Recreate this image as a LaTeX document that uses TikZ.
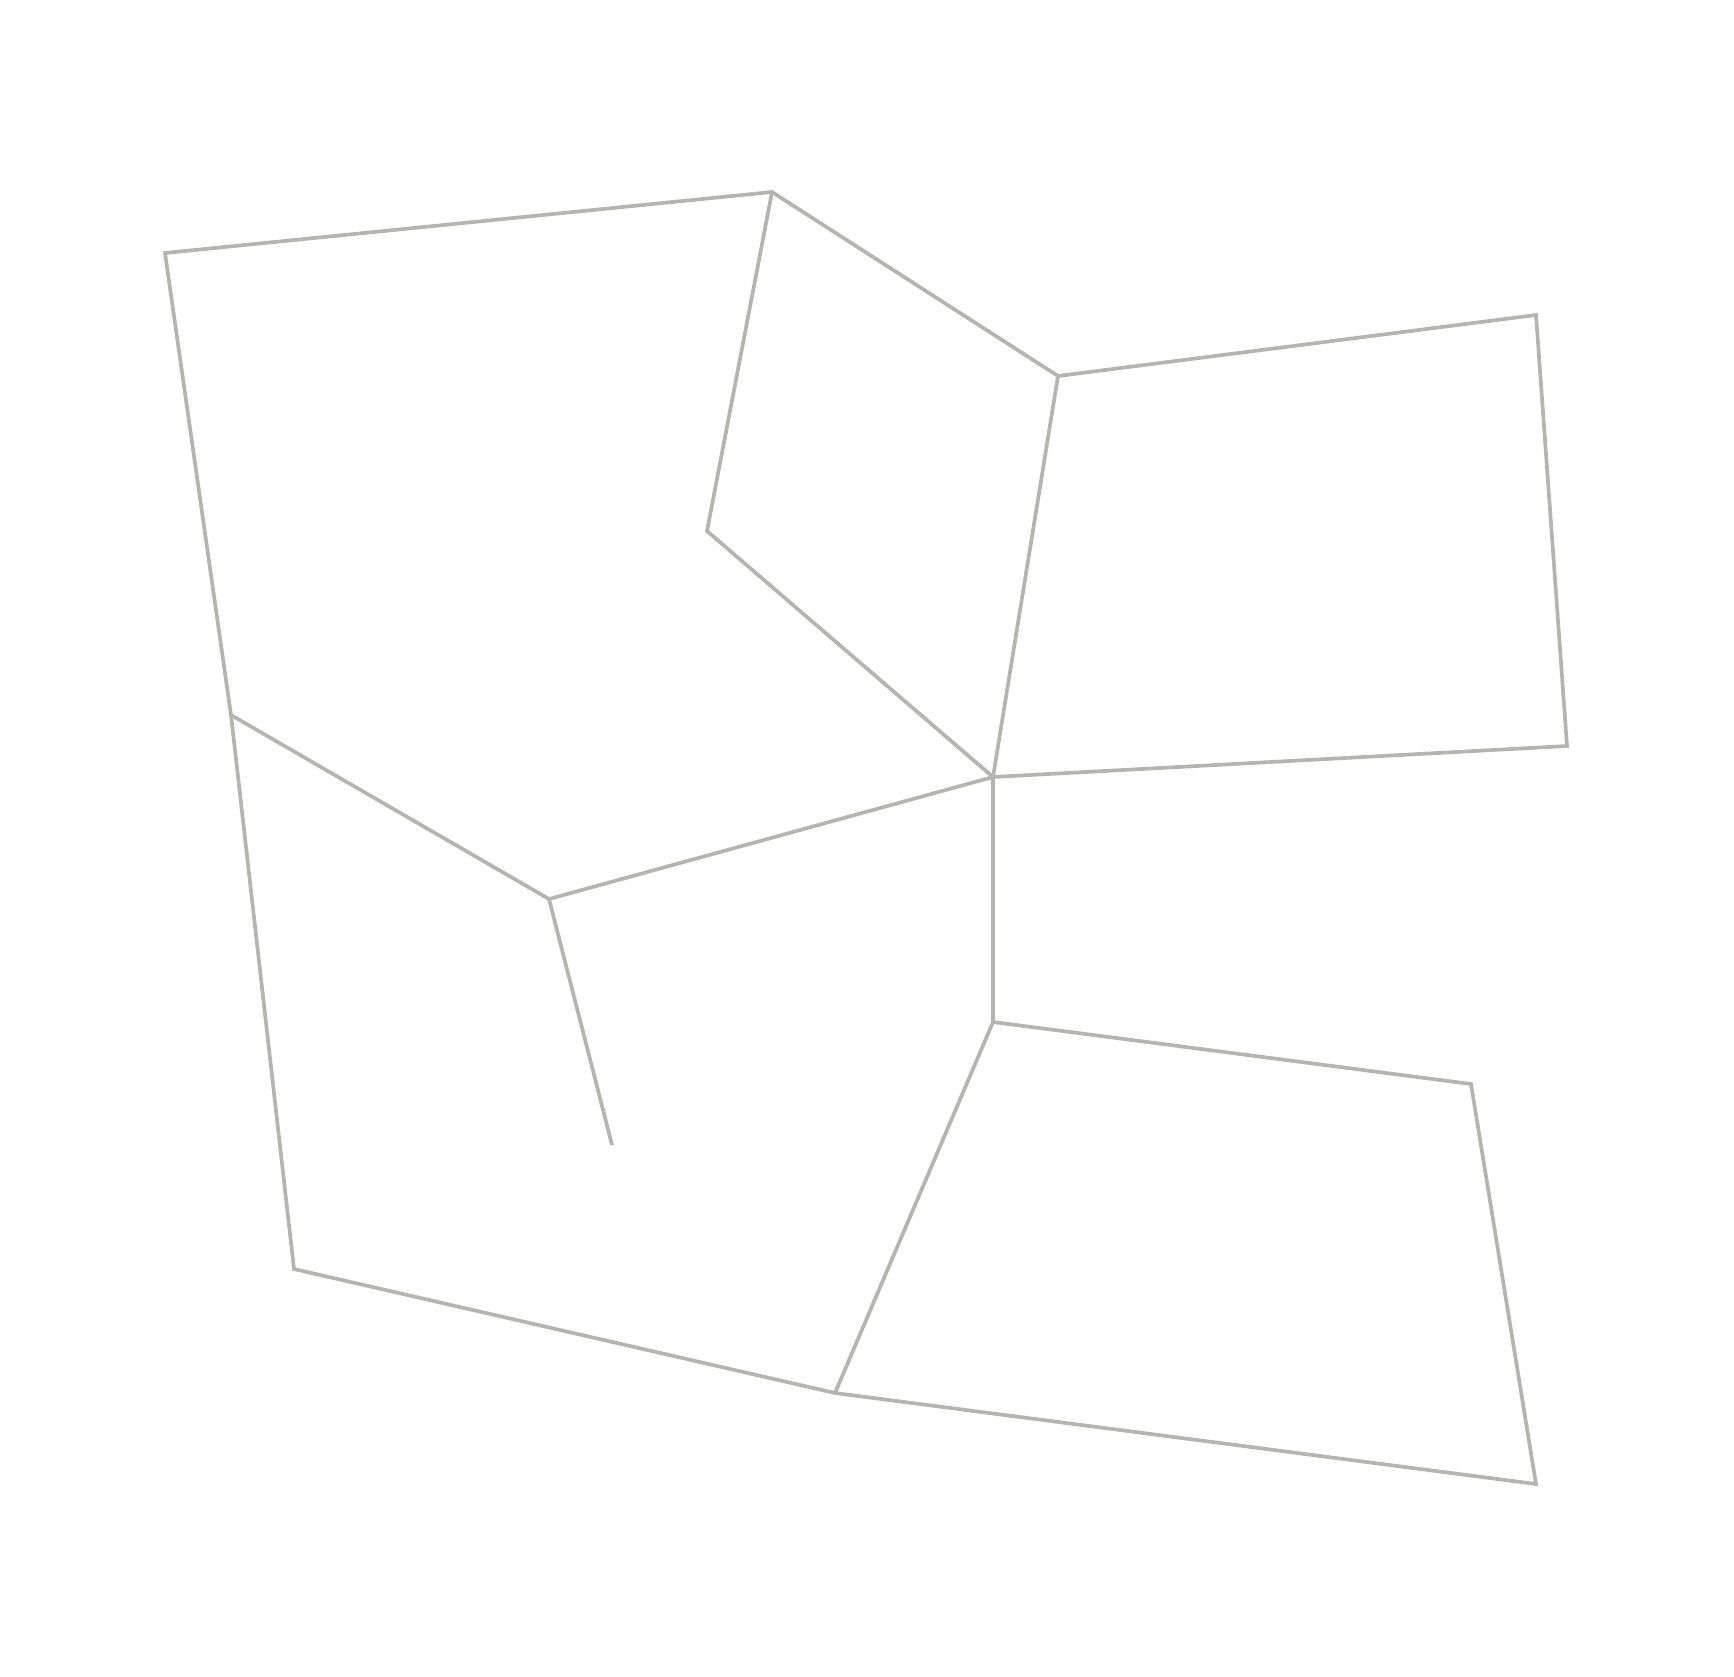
\documentclass[tikz,border=0pt]{standalone}
\definecolor{edgegray}{RGB}{180,180,176}
\begin{document}
\begin{tikzpicture}[x=1pt,y=-1pt,
  edge/.style={draw=edgegray,line width=3.7pt,line join=miter}]
\useasboundingbox (0,0) rectangle (1734,1676);
\coordinate (A) at (165,253);
\coordinate (B) at (772,192);
\coordinate (C) at (1058,376);
\coordinate (D) at (1536,315);
\coordinate (E) at (1567,746);
\coordinate (F) at (993,777);
\coordinate (G) at (707,531);
\coordinate (H) at (231,715);
\coordinate (I) at (549,899);
\coordinate (J) at (612,1145);
\coordinate (K) at (993,1022);
\coordinate (L) at (1471,1084);
\coordinate (M) at (1536,1484);
\coordinate (N) at (835,1393);
\coordinate (O) at (294,1269);
\draw[edge] (F) -- (E) -- (D) -- (C) -- (B) -- (A) -- (H) -- (O) -- (N) -- (M) -- (L) -- (K) -- (F);
\draw[edge] (C) -- (F);
\draw[edge] (B) -- (G) -- (F);
\draw[edge] (H) -- (I) -- (F);
\draw[edge] (I) -- (J);
\draw[edge] (K) -- (N);
\end{tikzpicture}
\end{document}
